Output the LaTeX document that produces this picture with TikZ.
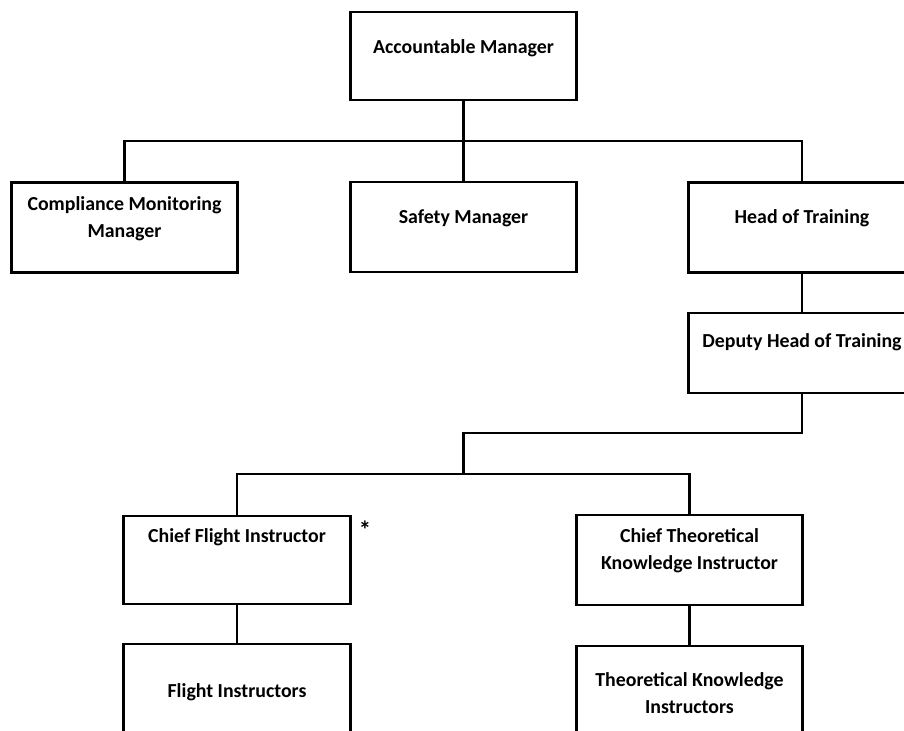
\documentclass[tikz,border=0pt]{standalone}
\usepackage{fontspec}
\setmainfont{Carlito}
\usepackage{tikz}
\usetikzlibrary{calc, positioning}

\begin{document}
\begin{tikzpicture}[x=0.02cm, y=-0.02cm,
	box/.style={draw, line width=1.6pt, minimum width=4.53cm, minimum height=1.8cm, inner sep=0},
	lbl/.style={align=center, inner sep=0, font=\bfseries\fontsize{11.3}{15.4}\selectfont},
	link/.style={-, line width=1.6pt}]
	\useasboundingbox (0,0) rectangle (904,731);
	\clip (0,0) rectangle (904,731);

	\node[box, minimum height=1.76cm] (am) at (463.5,56) {};
	\node[box] (cmm) at (124.5,227.5) {};
	\node[box] (sm) at (463.5,227) {};
	\node[box] (hot) at (802,227.5) {};
	\node[box, minimum height=1.6cm] (dhot) at (802,353) {};
	\node[box, minimum height=1.76cm] (cfi) at (237,560) {};
	\node[box] (ctki) at (689.5,560) {};
	\node[box] (fi) at (237,689) {};
	\node[box] (tki) at (689.5,691) {};

	\node[lbl] (amtxt) at ([yshift=-0.75cm]am.north) {Accountable Manager};
	\node[lbl] (cmmtxt) at ([yshift=-0.76cm]cmm.north) {Compliance Monitoring\\Manager};
	\node[lbl] (smtxt) at ([yshift=-0.75cm]sm.north) {Safety Manager};
	\node[lbl] (hottxt) at ([yshift=-0.75cm]hot.north) {Head of Training};
	\node[lbl] (dhottxt) at ([yshift=-0.61cm]dhot.north) {Deputy Head of Training};
	\node[lbl] (cfitxt) at ([yshift=-0.45cm]cfi.north) {Chief Flight Instructor};
	\node[lbl, font=\bfseries\fontsize{14}{16}\selectfont, right=0.14cm of cfi.north east, yshift=-0.3cm] (star) {*};
	\node[lbl] (ctkitxt) at ([yshift=-0.74cm]ctki.north) {Chief Theoretical\\Knowledge Instructor};
	\node[lbl] (fitxt) at ([yshift=-1.0cm]fi.north) {Flight Instructors};
	\node[lbl] (tkitxt) at ([yshift=-0.97cm]tki.north) {Theoretical Knowledge\\Instructors};

	\coordinate (bus1) at (463.5,141);
	\coordinate (bus2) at (463.5,433);
	\coordinate (bus3) at (463.5,474);

	\draw[link] (am.south) -- (bus1);
	\draw[link] (cmm.north) |- (bus1) -| (hot.north);
	\draw[link] (bus1) -- (sm.north);

	\draw[link] (hot) -- (dhot);
	\draw[link] (dhot.south) |- (bus2) -- (bus3);
	\draw[link] (cfi.north) |- (bus3) -| (ctki.north);

	\draw[link] (cfi) -- (fi);
	\draw[link] (ctki) -- (tki);
\end{tikzpicture}
\end{document}
